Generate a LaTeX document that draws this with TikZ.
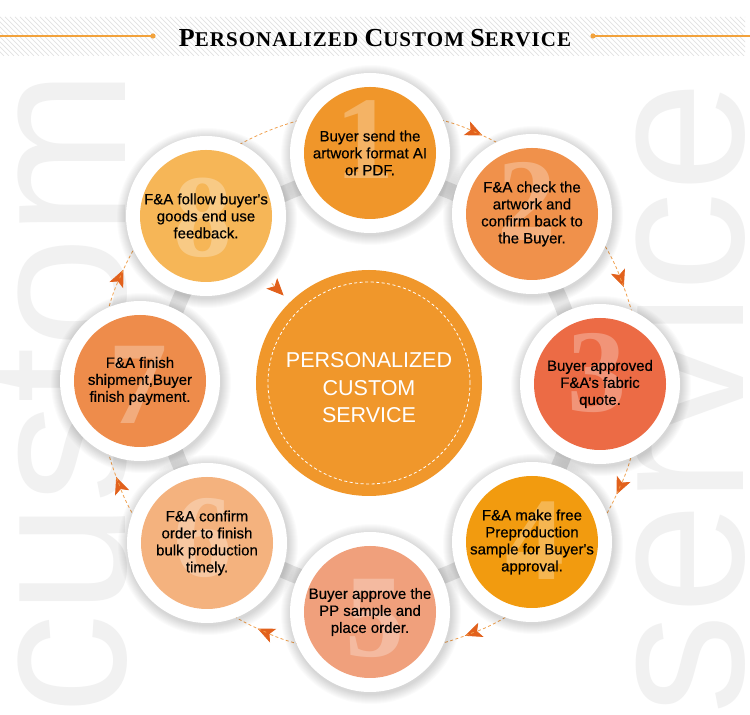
\documentclass[tikz,border=0pt]{standalone}
\usepackage{fontspec}
\setmainfont{Liberation Sans}
\newfontfamily\infofont[FakeBold=0.4]{Liberation Sans}
\newfontfamily\titlefont[LetterSpace=5]{Liberation Serif}
\newfontfamily\digitfont{Liberation Serif}
\usetikzlibrary{arrows.meta}
\pgfdeclarelayer{back}
\pgfdeclarelayer{ringl}
\pgfdeclarelayer{links}
\pgfsetlayers{back,ringl,links,main}
\definecolor{wordc}{HTML}{F1F1F1}
\definecolor{stripec}{HTML}{E2E2E2}
\definecolor{rulec}{HTML}{F2A23C}
\definecolor{ringc}{HTML}{E6E6E6}
\definecolor{flowc}{HTML}{F0A04E}
\definecolor{tipc}{HTML}{E2611C}
\definecolor{centc}{HTML}{F0972B}
\definecolor{colA}{HTML}{F0962A}
\definecolor{colB}{HTML}{F0914B}
\definecolor{colC}{HTML}{EC6B45}
\definecolor{colD}{HTML}{F29B0F}
\definecolor{colE}{HTML}{F0A07C}
\definecolor{colF}{HTML}{F4B27E}
\definecolor{colG}{HTML}{EE8C4B}
\definecolor{colH}{HTML}{F6B657}
\newcommand\tsc[2]{{\fontsize{26}{26}\selectfont #1}{\fontsize{21}{21}\selectfont #2}}
\begin{document}
\begin{tikzpicture}[x=1pt,y=1pt,
  sat/.style={circle, inner sep=0pt, minimum size=132pt},
  halo/.style={circle, fill=white, inner sep=0pt, minimum size=160pt},
  info/.style={align=center, font=\infofont\fontsize{15}{17}\selectfont, text=black, inner sep=0pt},
  bignum/.style={font=\digitfont\bfseries\fontsize{118}{118}\selectfont, text=white, text opacity=0.28, inner sep=0pt},
  flowline/.style={draw=flowc, line width=0.8pt, dash pattern=on 3pt off 2.5pt},
  flowtip/.style={-{Stealth[length=17pt,width=15pt,inset=4pt,color=tipc]}},
  bgword/.style={text=wordc, font=\fontsize{200}{200}\selectfont, inner sep=0pt, rotate=90},
  stripe/.style={draw=stripec, line width=0.7pt},
  rule/.style={draw=rulec, line width=1.3pt},
  glow/.style={fill=black, opacity=0.016}
]
\useasboundingbox (0,0) rectangle (750,715);
\begin{pgfonlayer}{back}
  \fill[white] (0,0) rectangle (750,715);
  \node[bgword, anchor=base west] (wcustom) at (125,0) {custom};
  \node[bgword, anchor=base west] (wservice) at (743,0) {service};
  \begin{scope}
    \clip (0,659) rectangle (745,698);
    \foreach \x in {-40,-35,...,750} \draw[stripe] (\x,698) -- (\x+39,659);
  \end{scope}
\end{pgfonlayer}
% title
\coordinate (rl0) at (0,679);
\coordinate (rl1) at (153,679);
\coordinate (rr0) at (593,679);
\coordinate (rr1) at (750,679);
\draw[rule] (rl0) -- (rl1);
\draw[rule] (rr0) -- (rr1);
\fill[rulec] (rl1) circle (2.6);
\fill[rulec] (rr0) circle (2.6);
\node[font=\titlefont\bfseries\fontsize{21}{21}\selectfont, anchor=base, inner sep=0pt] (title) at (375,668)
  {\tsc{P}{ERSONALIZED}\ \tsc{C}{USTOM}\ \tsc{S}{ERVICE}};
% geometry
\coordinate (C) at (370,333);
\coordinate (p1) at (370,562);
\coordinate (p2) at (532,501);
\coordinate (p3) at (600,331);
\coordinate (p4) at (532,173);
\coordinate (p5) at (370,103);
\coordinate (p6) at (207,172);
\coordinate (p7) at (140,334);
\coordinate (p8) at (206,499);
\begin{pgfonlayer}{ringl}
  \draw[draw=ringc, line width=16pt] (C) circle (207);
\end{pgfonlayer}
% halos with soft shadow
\foreach \p in {p1,p2,p3,p4,p5,p6,p7,p8}{
  \foreach \r in {81,82,...,90} \fill[glow] ([shift={(1,-2)}]\p) circle (\r);
}
\foreach \k in {1,...,8} \node[halo] (h\k) at (p\k) {};
% orange disks
\node[sat, fill=colA] (c1) at (p1) {};
\node[sat, fill=colB] (c2) at (p2) {};
\node[sat, fill=colC] (c3) at (p3) {};
\node[sat, fill=colD] (c4) at (p4) {};
\node[sat, fill=colE] (c5) at (p5) {};
\node[sat, fill=colF] (c6) at (p6) {};
\node[sat, fill=colG] (c7) at (p7) {};
\node[sat, fill=colH] (c8) at (p8) {};
% faded digits
\node[bignum] (n1) at (365,575) {1};
\node[bignum] (n2) at (527,514) {2};
\node[bignum] (n3) at (597,342) {3};
\node[bignum] (n4) at (535,174) {4};
\node[bignum] (n5) at (375,97) {5};
\node[bignum] (n6) at (203,177) {6};
\node[bignum] (n7) at (138,330) {7};
\node[bignum] (n8) at (203,497) {8};
% texts
\node[info] (t1) at (p1) {Buyer send the\\artwork format AI\\or PDF.};
\node[info] (t2) at (p2) {F\&A check the\\artwork and\\confirm back to\\the Buyer.};
\node[info] (t3) at (p3) {Buyer approved\\F\&A’s fabric\\quote.};
\node[info] (t4) at (p4) {F\&A make free\\Preproduction\\sample for Buyer\textquotesingle s\\approval.};
\node[info] (t5) at (p5) {Buyer approve the\\PP sample and\\place order.};
\node[info] (t6) at (p6) {F\&A confirm\\order to finish\\bulk production\\timely.};
\node[info] (t7) at (p7) {F\&A finish\\shipment,Buyer\\finish payment.};
\node[info] (t8) at (p8) {F\&A follow buyer\textquotesingle s\\goods end use\\feedback.};
% centre
\node[circle, fill=centc, inner sep=0pt, minimum size=226pt] (cc) at (369,332) {};
\draw[white, line width=0.8pt, dash pattern=on 3pt off 2.5pt] (cc.center) circle (101);
\node[align=center, text=white, font=\fontsize{21.5}{27.5}\selectfont, inner sep=0pt] (ct) at (369,327)
  {PERSONALIZED\\CUSTOM\\SERVICE};
% flow arcs
\foreach \k/\a in {1/90,2/45,3/0,4/-45,5/-90,6/-135,7/-180,8/-225}{
  \coordinate (g\k) at ([shift={(\a:271)}]C);
  \coordinate (m\k) at ([shift={(\a-22.5:271)}]C);
}
\begin{pgfonlayer}{links}
  \foreach \k/\a in {1/90,2/45,3/0,4/-45,5/-90,6/-135,7/-180}{
    \draw[flowline, flowtip] (g\k) arc[start angle=\a, end angle=\a-24.5, radius=271];
    \draw[flowline] (m\k) arc[start angle=\a-22.5, end angle=\a-45, radius=271];
  }
  \draw[flowline] (g8) arc[start angle=135, end angle=90, radius=271];
  \draw[flowline, flowtip, shorten <=14pt, shorten >=9pt] (h8) -- (cc);
\end{pgfonlayer}
\end{tikzpicture}
\end{document}
